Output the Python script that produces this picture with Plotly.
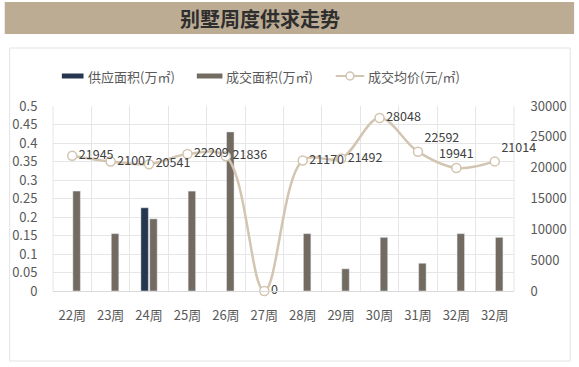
import plotly.graph_objects as go

# ---- data ----
weeks = ["22周", "23周", "24周", "25周", "26周", "27周", "28周", "29周", "30周", "31周", "32周", "32周"]
supply_area = [None, None, 0.225, None, None, None, None, None, None, None, None, None]
deal_area = [0.27, 0.155, 0.195, 0.27, 0.43, 0, 0.155, 0.06, 0.145, 0.075, 0.155, 0.145]
avg_price = [21945, 21007, 20541, 22209, 21836, 0, 21170, 21492, 28048, 22592, 19941, 21014]
series_names = ["供应面积(万㎡)", "成交面积(万㎡)", "成交均价(元/㎡)"]
label_pos = ["middle right"] * 9 + ["top right", "top center", "top right"]

W, H = 579, 367
ML, MR, MT, MB = 51, 60, 106, 76
PW, PH = W - ML - MR, H - MT - MB

def px(x):
    return (x - ML) / PW

def py(y):
    return (H - MB - y) / PH

xs = list(range(len(weeks)))
FONT = "Noto Sans CJK SC"
C_SUPPLY, C_DEAL, C_LINE = "#27364f", "#736b61", "#d2c5b1"

fig = go.Figure()
fig.add_trace(go.Bar(x=xs, y=supply_area, name=series_names[0], marker_color=C_SUPPLY,
                     yaxis="y", showlegend=False))
fig.add_trace(go.Bar(x=xs, y=deal_area, name=series_names[1], marker_color=C_DEAL,
                     yaxis="y", showlegend=False))
fig.add_trace(go.Scatter(x=xs, y=avg_price, name=series_names[2], yaxis="y2",
                         mode="lines+markers+text", text=[str(v) for v in avg_price],
                         textposition=label_pos, showlegend=False,
                         textfont=dict(size=12.5, color="#404040", family=FONT),
                         line=dict(color=C_LINE, width=2.5, shape="spline", smoothing=1),
                         marker=dict(size=9, color="white", line=dict(color=C_LINE, width=1.5)),
                         cliponaxis=False))

LY = 76
shapes = [
    dict(type="rect", xref="paper", yref="paper", x0=px(2), x1=px(580), y0=py(2), y1=py(34),
         fillcolor="#bdac94", line=dict(width=0), layer="below"),
    dict(type="rect", xref="paper", yref="paper", x0=px(7), x1=px(576), y0=py(48), y1=py(361),
         fillcolor="rgba(0,0,0,0)", line=dict(color="#e3e3e3", width=1), layer="below"),
    dict(type="line", xref="paper", yref="paper", x0=1, x1=1, y0=0, y1=1,
         line=dict(color="#e6e6e6", width=1)),
    dict(type="line", xref="paper", yref="paper", x0=0, x1=0, y0=0, y1=1,
         line=dict(color="#e6e6e6", width=1)),
    # legend symbols
    dict(type="rect", xref="paper", yref="paper", x0=px(60), x1=px(82), y0=py(LY - 2.5), y1=py(LY + 2.5),
         fillcolor=C_SUPPLY, line=dict(width=0)),
    dict(type="rect", xref="paper", yref="paper", x0=px(197), x1=px(223), y0=py(LY - 2.5), y1=py(LY + 2.5),
         fillcolor=C_DEAL, line=dict(width=0)),
    dict(type="line", xref="paper", yref="paper", x0=px(338), x1=px(367), y0=py(LY), y1=py(LY),
         line=dict(color=C_LINE, width=2)),
    dict(type="circle", xref="paper", yref="paper", x0=px(348.5), x1=px(356.5), y0=py(LY - 4), y1=py(LY + 4),
         fillcolor="white", line=dict(color=C_LINE, width=1.5)),
]

annotations = [
    dict(text="<b>别墅周度供求走势</b>", xref="paper", yref="paper", x=px(261), y=py(18),
         xanchor="center", yanchor="middle", showarrow=False,
         font=dict(size=20, color="#2e2e2e", family=FONT)),
]
for name, lx in zip(series_names, [84, 225, 369]):
    annotations.append(dict(text=name, xref="paper", yref="paper", x=px(lx), y=py(LY),
                            xanchor="left", yanchor="middle", showarrow=False,
                            font=dict(size=13, color="#595959", family=FONT)))

fig.update_layout(
    width=W, height=H,
    margin=dict(l=ML, r=MR, t=MT, b=MB),
    paper_bgcolor="white", plot_bgcolor="white",
    font=dict(family=FONT, size=13, color="#595959"),
    barmode="group", bargap=0.54, bargroupgap=0.15,
    showlegend=False,
    xaxis=dict(tickmode="array", tickvals=xs, ticktext=weeks, range=[-0.5, len(weeks) - 0.5],
               showgrid=False, ticks="outside", ticklen=12, tickcolor="rgba(0,0,0,0)",
               showline=True, linecolor="#d9d9d9",
               minor=dict(tickmode="linear", tick0=0.5, dtick=1, showgrid=True,
                          gridcolor="#e6e6e6", gridwidth=1),
               tickfont=dict(size=13, color="#595959")),
    yaxis=dict(range=[0, 0.5], dtick=0.05, tickformat="~g", showgrid=True, gridcolor="#e6e6e6",
               zeroline=False, ticks="outside", ticklen=12, tickcolor="rgba(0,0,0,0)",
               tickfont=dict(size=13, color="#595959")),
    yaxis2=dict(range=[0, 30000], dtick=5000, tickformat="d", overlaying="y", side="right",
                showgrid=False, zeroline=False, ticks="outside", ticklen=13,
                tickcolor="rgba(0,0,0,0)", tickfont=dict(size=13, color="#595959")),
    shapes=shapes,
    annotations=annotations,
)

fig.write_html("out.html", config={"displayModeBar": False},
               post_script="document.body.style.margin='0';document.body.style.overflow='hidden';")
